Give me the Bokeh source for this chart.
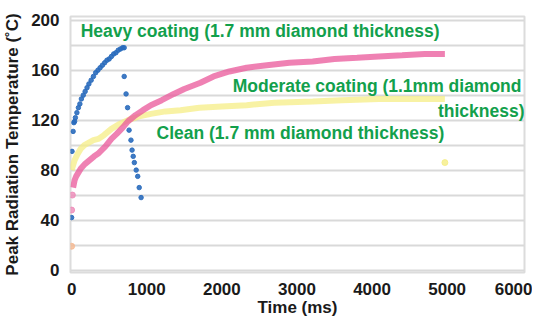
from bokeh.plotting import figure
from bokeh.models import Range1d, FixedTicker, Label
from bokeh.embed import file_html
from bokeh.resources import INLINE

# Heavy coating (blue)
heavy_x = [0, 5, 20, 40, 30, 50, 70, 90, 110, 130, 155, 180, 205, 230, 260, 290, 320, 350,
           380, 410, 440, 470, 500, 530, 560, 590, 620, 650, 680, 700,
           700, 725, 745, 765, 790, 805, 820, 835, 860, 880, 900, 925]
heavy_y = [42, 95, 111, 119, 118, 122, 126, 130, 133, 137, 140, 143, 146, 149, 152, 155, 158, 160,
           162, 164, 166, 168, 169, 171, 173, 174, 176, 177, 178, 178,
           155, 141, 130, 112, 104, 96, 91, 86, 80, 75, 66, 58]

# Moderate coating (pink)
moderate_x = [20, 40, 60, 90, 120, 150, 180, 220, 260, 300, 350, 400, 450, 530, 600, 680, 750,
              850, 950, 1055, 1200, 1360, 1500, 1715, 1890, 2100, 2330, 2600, 2900, 3210,
              3500, 3800, 4090, 4400, 4700, 4970]
moderate_y = [66, 72, 75, 78, 81, 83, 85, 87, 89, 91, 93, 96, 99, 105, 109, 114, 119,
              124, 128, 132, 136, 141, 145, 150, 155, 159, 162, 164, 166, 167,
              169, 170, 171, 172, 173, 173]
moderate_pts_x = [0, 10]
moderate_pts_y = [48, 60]

# Clean (yellow)
clean_x = [0, 40, 80, 120, 170, 230, 290, 355, 430, 530, 640, 750, 900, 1055, 1250, 1450,
           1700, 2000, 2330, 2700, 3210, 3600, 4090, 4500, 4970]
clean_y = [80, 88, 93, 97, 100, 102, 104, 105, 108, 113, 117, 120, 123, 125, 127, 128,
           130, 131, 132, 134, 135, 136, 137, 137, 137]
clean_pts_x = [4970]
clean_pts_y = [86]
other_pts_x = [0]
other_pts_y = [19]

y_ticks = [0, 40, 80, 120, 160, 200]
x_ticks = [0, 1000, 2000, 3000, 4000, 5000, 6000]
grid_ticks = list(range(0, 201, 20))

FONT = "Liberation Sans"
GREEN = "#12a04c"

p = figure(width=532, height=319, output_backend="svg", toolbar_location=None,
           x_range=Range1d(-15, 6030), y_range=Range1d(-2, 203),
           min_border_left=64, min_border_right=8, min_border_top=16, min_border_bottom=44)
p.outline_line_color = "#dcdcdc"
p.outline_line_width = 2
p.background_fill_color = "white"
p.border_fill_color = "white"

p.xgrid.visible = False
p.ygrid.ticker = FixedTicker(ticks=grid_ticks)
p.ygrid.grid_line_color = "#d9d9d9"
p.ygrid.grid_line_width = 2

for ax in (p.xaxis[0], p.yaxis[0]):
    ax.axis_line_color = None
    ax.major_tick_line_color = None
    ax.minor_tick_line_color = None
    ax.major_label_text_font = FONT
    ax.major_label_text_font_style = "bold"
    ax.major_label_text_font_size = "17px"
    ax.major_label_text_color = "#1a1a1a"
    ax.axis_label_text_font = FONT
    ax.axis_label_text_font_style = "bold"
    ax.axis_label_text_font_size = "17px"
    ax.axis_label_text_color = "#1a1a1a"

p.xaxis.ticker = FixedTicker(ticks=x_ticks)
p.yaxis.ticker = FixedTicker(ticks=y_ticks)
p.xaxis.axis_label = "Time (ms)"
p.yaxis.axis_label = "Peak Radiation Temperature (˚C)"
p.xaxis.major_label_standoff = 4
p.yaxis.major_label_standoff = 5
p.xaxis.axis_label_standoff = 0
p.yaxis.axis_label_standoff = 6

# yellow
p.line(clean_x, clean_y, line_color="#f5ee85", line_width=6, line_alpha=0.75)
p.scatter(clean_pts_x, clean_pts_y, size=6, color="#f5ee85", alpha=0.8)
p.scatter(other_pts_x, other_pts_y, size=6, color="#f5b890", alpha=0.8)
# pink
p.line(moderate_x, moderate_y, line_color="#e9579a", line_width=6, line_alpha=0.75)
p.scatter(moderate_pts_x, moderate_pts_y, size=6, color="#ee8ab8", alpha=0.8)
# blue
p.scatter(heavy_x, heavy_y, size=4.5, color="#2a6bbd", alpha=0.9)

lab_kw = dict(text_font=FONT, text_font_style="bold", text_font_size="17.5px",
              text_color=GREEN, text_baseline="middle")
p.add_layout(Label(x=120, y=191, text="Heavy coating (1.7 mm diamond thickness)", **lab_kw))
p.add_layout(Label(x=5990, y=147, text="Moderate coating (1.1mm diamond", text_align="right", **lab_kw))
p.add_layout(Label(x=6030, y=127, text="thickness)", text_align="right", **lab_kw))
p.add_layout(Label(x=1130, y=110, text="Clean (1.7 mm diamond thickness)", **lab_kw))

open("out.html", "w").write(file_html(p, INLINE))
